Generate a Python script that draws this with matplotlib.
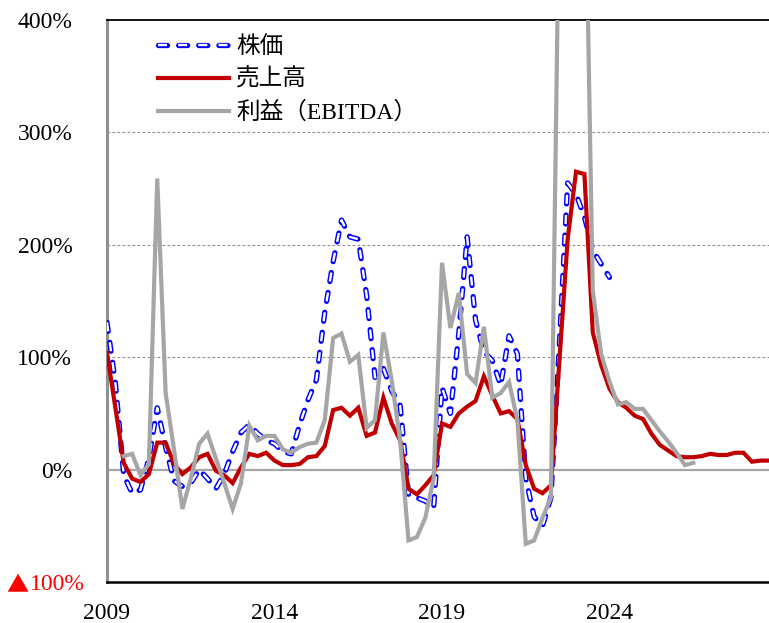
import numpy as np
import matplotlib
matplotlib.use("Agg")
import matplotlib.pyplot as plt
import matplotlib.transforms as mtransforms
from matplotlib.legend_handler import HandlerTuple

plt.rcParams['font.family'] = ['Liberation Serif', 'Noto Sans CJK JP', 'DejaVu Sans']
plt.rcParams['lines.scale_dashes'] = False

# --- Data: YoY change (%), quarterly from 2009 Q1 ---
START_YEAR = 2009

stock = [131, 77, -5, -21, -18, 10, 55, 20, -10, -15,
         -12, 0, -8, -17, -4, 16, 33, 40, 32, 26,
         23, 16, 14, 40, 62, 80, 140, 185, 222, 207,
         205, 155, 82, 90, 70, 57, -22, -25, -28, -34,
         73, 50, 121, 207, 133, 105, 97, 75, 119, 103,
         -8, -42, -50, -25, 110, 255, 245, 225, 195, 183,
         171]

sales = [104, 55, 6, -8, -11, -4, 24, 24, 5, -4,
         2, 11, 14, -1, -5, -12, 2, 14, 12, 15,
         8, 4, 4, 5, 11, 12, 21, 53, 55, 48,
         55, 30, 33, 64, 41, 26, -17, -22, -14, -5,
         41, 38, 50, 56, 61, 83, 66, 50, 52, 45,
         4, -17, -21, -14, 95, 205, 265, 263, 122, 93,
         72, 60, 55, 48, 45, 32, 22, 17, 12, 11,
         11, 12, 14, 13, 13, 15, 15, 7, 8, 8]

ebitda = [np.nan, np.nan, 12, 14, -5, 5, 259, 68, 18, -35,
          -8, 23, 32, 10, -12, -35, -12, 39, 26, 30,
          30, 18, 15, 20, 23, 24, 44, 117, 121, 96,
          102, 37, 44, 122, 79, 26, -63, -60, -43, -8,
          184, 126, 157, 85, 77, 127, 64, 68, 78, 44,
          -66, -63, -43, -25, 520, 900, 850, 580, 159, 103,
          78, 58, 60, 54, 54, 44, 34, 25, 15, 4,
          6]

labels = ['株価', '売上高', '利益（EBITDA）']
y_ticks = [-100, 0, 100, 200, 300, 400]
y_ticklabels = ['100%', '0%', '100%', '200%', '300%', '400%']
NEG_MARK = '▲'   # prefix used for negative values
x_ticks = [2009, 2014, 2019, 2024]


def quarters(values):
    return START_YEAR + np.arange(len(values)) / 4.0


BLUE = '#0000FF'
RED = '#C00000'
GRAY = '#A6A6A6'

fig = plt.figure(figsize=(7.69, 6.23), dpi=100)
ax = fig.add_axes([107 / 769, 41 / 623, 662 / 769, 562 / 623])

# hollow dashes: thick blue dashes with a thin white core on top
dash = (0, (6.5, 8))
s_outer, = ax.plot(quarters(stock), stock, color=BLUE, lw=3.8,
                   linestyle=dash, dash_capstyle='round', zorder=3)
s_inner, = ax.plot(quarters(stock), stock, color='white', lw=1.7,
                   linestyle=dash, dash_capstyle='butt', zorder=3.1)
r_line, = ax.plot(quarters(sales), sales, color=RED, lw=3.0,
                  solid_joinstyle='miter', zorder=4)
g_line, = ax.plot(quarters(ebitda), ebitda, color=GRAY, lw=3.0,
                  solid_joinstyle='miter', zorder=5)

ax.axhline(0, color=GRAY, lw=1.6, zorder=2)
for v in [100, 200, 300]:
    ax.axhline(v, color='#8C8C8C', lw=0.8, linestyle=(0, (2, 1.6)), zorder=1)

ax.set_xlim(2009, 2028.76)
ax.set_ylim(-100, 400)
ax.set_xticks(x_ticks)
ax.set_xticklabels([str(x) for x in x_ticks])
ax.set_yticks(y_ticks)
ax.set_yticklabels(y_ticklabels)
ax.tick_params(axis='both', length=0, labelsize=17)
ax.tick_params(axis='y', pad=25)
ax.tick_params(axis='x', pad=15)

# negative label sits a little further right, in red, with a big triangle
neg = ax.get_yticklabels()[0]
neg.set_color('#FF0000')
shift = mtransforms.ScaledTranslation(0.13, 0, fig.dpi_scale_trans)
neg.set_transform(neg.get_transform() + shift)
ax.annotate(NEG_MARK, xy=(0, 0.5), xycoords=neg, ha='right', va='center',
            xytext=(-1, -1), textcoords='offset points',
            color='#FF0000', fontsize=16, family=['Noto Sans CJK JP'])

ax.spines['right'].set_visible(False)
ax.spines['left'].set_color('#909090')
ax.spines['left'].set_linewidth(2.2)
ax.spines['top'].set_color('black')
ax.spines['top'].set_linewidth(1.3)
ax.spines['bottom'].set_color('black')
ax.spines['bottom'].set_linewidth(1.8)

# overlay both halves of the hollow dash in the legend key
leg = ax.legend([(s_outer, s_inner), r_line, g_line], labels,
                handler_map={tuple: HandlerTuple(ndivide=1, pad=0)},
                loc='upper left', bbox_to_anchor=(158 / 769, 1 - 36 / 623),
                bbox_transform=fig.transFigure, frameon=False,
                fontsize=17, handlelength=3.0, handletextpad=0.3,
                labelspacing=0.45, borderpad=0, borderaxespad=0)

fig.savefig('out.png', dpi=100)
